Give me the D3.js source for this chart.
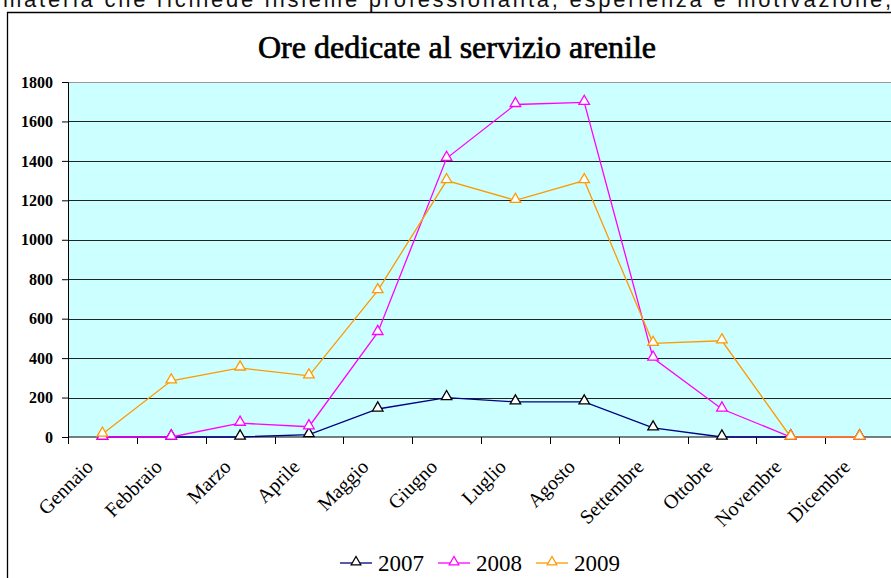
<!DOCTYPE html>
<html>
<head>
<meta charset="utf-8">
<script src="https://cdn.jsdelivr.net/npm/d3@7"></script>
<style>
  body { margin: 0; background: #fff; overflow: hidden; }
  svg { display: block; }
</style>
</head>
<body>
<div class="chart"></div>
<script>
'use strict';

// values
var months = ["Gennaio", "Febbraio", "Marzo", "Aprile", "Maggio", "Giugno",
              "Luglio", "Agosto", "Settembre", "Ottobre", "Novembre", "Dicembre"];
var years = ["2007", "2008", "2009"];
var ore2007 = [0, 0, 0, 12, 142, 200, 178, 178, 46, 0, 0, 0];
var ore2008 = [0, 0, 70, 52, 530, 1413, 1686, 1697, 400, 142, 0, 0];
var ore2009 = [15, 285, 350, 310, 742, 1300, 1200, 1300, 475, 488, 0, 0];
var yTicks = [0, 200, 400, 600, 800, 1000, 1200, 1400, 1600, 1800];
var colors = ["#000080", "#ff00ff", "#ff9900"];

(function() {
  var width = 891,
      height = 578;
  var plot = {left: 68, top: 82, right: 894, bottom: 437};
  var serif = "'Liberation Serif', 'Times New Roman', serif";

  var series = [ore2007, ore2008, ore2009].map(function(v, i) {
    return {name: years[i], color: colors[i], values: v};
  });

  var svg = d3.select(".chart").append("svg")
          .attr("width", width)
          .attr("height", height);

  // text of the page above the chart, cut by the window
  svg.append("text")
          .attr("x", 3)
          .attr("y", 7)
          .attr("textLength", 888)
          .attr("lengthAdjust", "spacing")
          .style("font-family", "'Liberation Sans', Arial, sans-serif")
          .style("font-size", "22px")
          .attr("fill", "#111")
          .text("materia che richiede insieme professionalità, esperienza e motivazione,");

  // chart frame
  svg.append("path")
          .attr("d", "M7.5," + height + "V12.5H" + width)
          .attr("fill", "none")
          .attr("stroke", "#000")
          .attr("stroke-width", 1.3);

  var x = d3.scaleBand()
          .domain(months)
          .range([plot.left, plot.right]);
  var y = d3.scaleLinear()
          .domain([0, 1800])
          .range([plot.bottom, plot.top]);

  svg.append("rect")
          .attr("x", plot.left)
          .attr("y", plot.top)
          .attr("width", plot.right - plot.left)
          .attr("height", plot.bottom - plot.top)
          .attr("fill", "#ccffff");

  // gridlines
  svg.append("g")
          .selectAll("line")
          .data(yTicks.slice(1))
          .enter().append("line")
          .attr("x1", plot.left)
          .attr("x2", plot.right)
          .attr("y1", function (d) { return Math.round(y(d)) + 0.5; })
          .attr("y2", function (d) { return Math.round(y(d)) + 0.5; })
          .attr("stroke", function (d) { return d === 1800 ? "#999" : "#222"; })
          .attr("stroke-width", 1);

  // y axis
  var yAxis = svg.append("g")
          .attr("transform", "translate(" + plot.left + ",0)")
          .call(d3.axisLeft(y).tickValues(yTicks).tickFormat(d3.format("d"))
                  .tickSize(6).tickPadding(9));
  yAxis.select(".domain").attr("stroke", "#000");
  yAxis.selectAll("text")
          .style("font-family", serif)
          .style("font-weight", "bold")
          .style("font-size", "16px")
          .attr("fill", "#000");

  // x axis: ticks on the band edges, labels turned 45 degrees
  var xg = svg.append("g")
          .attr("transform", "translate(0," + plot.bottom + ")");
  xg.append("line")
          .attr("x1", plot.left)
          .attr("x2", plot.right)
          .attr("stroke", "#000");
  xg.selectAll(".tick")
          .data(months.concat(["end"]))
          .enter().append("line")
          .attr("class", "tick")
          .attr("x1", function (d, i) { return Math.round(plot.left + i * x.step()) + 0.5; })
          .attr("x2", function (d, i) { return Math.round(plot.left + i * x.step()) + 0.5; })
          .attr("y2", 7)
          .attr("stroke", "#000");
  xg.selectAll(".lab")
          .data(months)
          .enter().append("text")
          .attr("class", "lab")
          .attr("text-anchor", "end")
          .attr("transform", function (d) {
            return "translate(" + (x(d) + x.bandwidth() / 2 - 8) + ",31)rotate(-45)";
          })
          .style("font-family", serif)
          .style("font-size", "20px")
          .text(function (d) { return d; });

  var line = d3.line()
          .x(function (d, i) { return x(months[i]) + x.bandwidth() / 2; })
          .y(function (d) { return y(d); });

  var tri = d3.symbol().type(d3.symbolTriangle).size(48);

  series.forEach(function (s) {
    var g = svg.append("g");
    g.append("path")
            .datum(s.values)
            .attr("d", line)
            .attr("fill", "none")
            .attr("stroke", s.color)
            .attr("stroke-width", 1.3);
    g.selectAll("path.pt")
            .data(s.values)
            .enter().append("path")
            .attr("class", "pt")
            .attr("d", tri)
            .attr("transform", function (d, i) {
              return "translate(" + (x(months[i]) + x.bandwidth() / 2) + "," + (y(d) - 1) + ")";
            })
            .attr("fill", "#fff")
            .attr("stroke", s.name === "2007" ? "#000" : s.color)
            .attr("stroke-width", 1.3);
  });

  // legend
  var legend = svg.append("g")
          .attr("transform", "translate(340,563)");
  var item = legend.selectAll("g")
          .data(series)
          .enter().append("g")
          .attr("transform", function (d, i) { return "translate(" + (i * 98) + ",0)"; });
  item.append("line")
          .attr("x2", 32)
          .attr("stroke", function (d) { return d.color; })
          .attr("stroke-width", 1.3);
  item.append("path")
          .attr("d", d3.symbol().type(d3.symbolTriangle).size(40))
          .attr("transform", "translate(16,-1)")
          .attr("fill", "#fff")
          .attr("stroke", function (d) { return d.name === "2007" ? "#000" : d.color; })
          .attr("stroke-width", 1.3);
  item.append("text")
          .attr("x", 38)
          .attr("y", 8)
          .style("font-family", serif)
          .style("font-size", "23px")
          .text(function (d) { return d.name; });

  // title
  svg.append("text")
          .attr("x", 457)
          .attr("y", 58)
          .attr("text-anchor", "middle")
          .style("font-family", serif)
          .style("font-size", "32px")
          .attr("stroke", "#000")
          .attr("stroke-width", 0.7)
          .text("Ore dedicate al servizio arenile");
})();
</script>
</body>
</html>
